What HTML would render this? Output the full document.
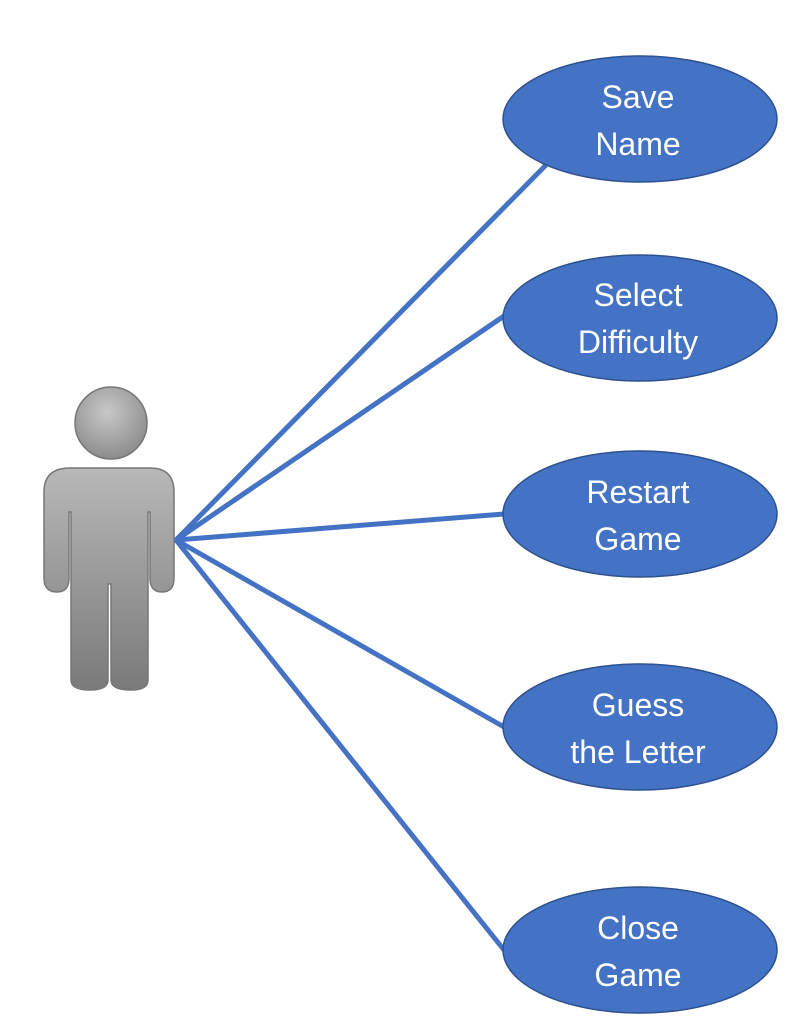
<!DOCTYPE html>
<html><head><meta charset="utf-8"><style>
html,body{margin:0;padding:0;background:#fff;}
svg{display:block;}
text{font-family:"Liberation Sans",sans-serif;font-size:32px;fill:#fff;text-anchor:middle;}
</style></head><body>
<svg width="800" height="1032" viewBox="0 0 800 1032" xmlns="http://www.w3.org/2000/svg">
<defs>
<linearGradient id="g" x1="0" y1="0" x2="0" y2="1">
<stop offset="0" stop-color="#b8b8b8"/><stop offset="1" stop-color="#7a7a7a"/>
</linearGradient>
<radialGradient id="h" cx="0.45" cy="0.35" r="0.7">
<stop offset="0" stop-color="#c8c8c8"/><stop offset="1" stop-color="#888"/>
</radialGradient>
</defs>
<g stroke="#4472C4" stroke-width="5" stroke-linecap="round">
<line x1="176" y1="540" x2="545" y2="166"/>
<line x1="176" y1="540" x2="504" y2="316"/>
<line x1="176" y1="540" x2="504" y2="514"/>
<line x1="176" y1="540" x2="504" y2="727"/>
<line x1="176" y1="540" x2="504" y2="950"/>
</g>
<circle cx="111" cy="423" r="36" fill="url(#h)" stroke="#777" stroke-width="1.5"/>
<path d="M70,468 L150,468 Q174,468 174,492 L174,578 Q174,592 162,592 Q150,592 150,578 L150,512 L148,512 L148,680 Q148,690 131,690 Q111,690 111,680 L111,584 L108,584 L108,680 Q108,690 90,690 Q71,690 71,680 L71,512 L69,512 L69,578 Q69,592 57,592 Q44,592 44,578 L44,492 Q44,468 70,468 Z" fill="url(#g)" stroke="#777" stroke-width="1.5"/>
<g fill="#4472C4" stroke="#2F528F" stroke-width="1.5">
<ellipse cx="640" cy="119" rx="137" ry="63"/>
<ellipse cx="640" cy="318" rx="137" ry="63"/>
<ellipse cx="640" cy="514" rx="137" ry="63"/>
<ellipse cx="640" cy="727" rx="137" ry="63"/>
<ellipse cx="640" cy="950" rx="137" ry="63"/>
</g>
<text x="638" y="108">Save</text><text x="638" y="155">Name</text>
<text x="638" y="306">Select</text><text x="638" y="353">Difficulty</text>
<text x="638" y="503">Restart</text><text x="638" y="550">Game</text>
<text x="638" y="716">Guess</text><text x="638" y="763">the Letter</text>
<text x="638" y="939">Close</text><text x="638" y="986">Game</text>
</svg>
</body></html>
